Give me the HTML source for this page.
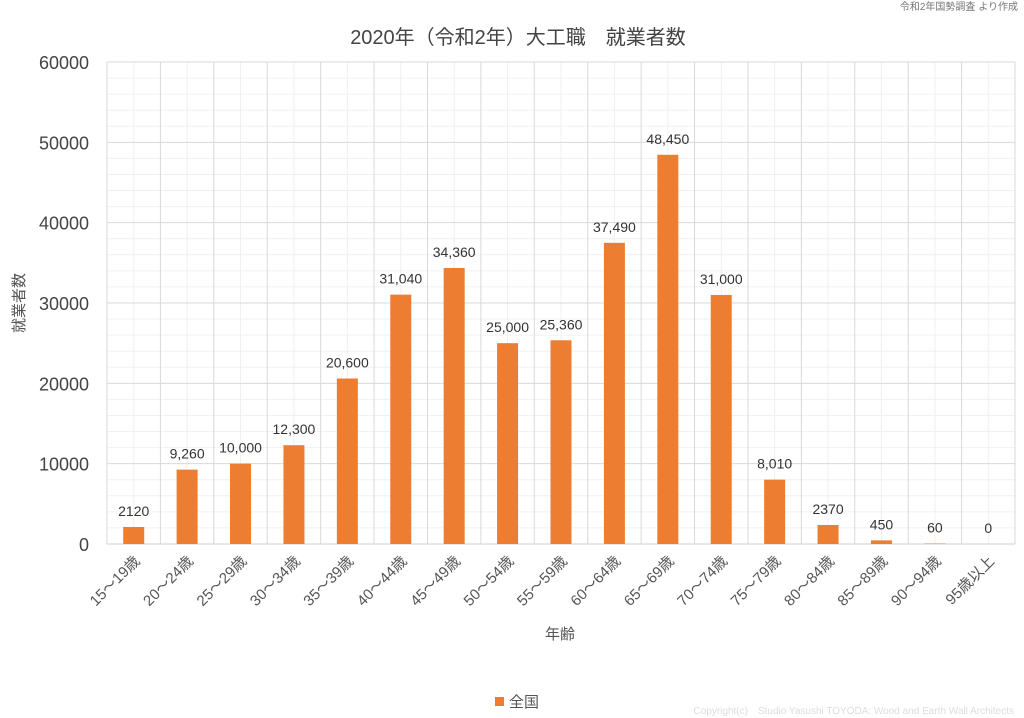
<!DOCTYPE html>
<html><head><meta charset="utf-8"><style>
body{margin:0;background:#fff;}
svg{display:block;font-family:"Liberation Sans","Noto Sans CJK JP",sans-serif;}
</style></head><body>
<svg width="1024" height="718" viewBox="0 0 1024 718" xmlns="http://www.w3.org/2000/svg">
<rect width="1024" height="718" fill="#fff"/>
<text x="1018" y="10" font-size="10" fill="#777" text-anchor="end">令和2年国勢調査 より作成</text>
<text x="518" y="44" font-size="20" fill="#444" text-anchor="middle">2020年（令和2年）大工職　就業者数</text>
<text transform="translate(24,303) rotate(-90)" font-size="15" fill="#555" text-anchor="middle">就業者数</text>
<text x="560" y="639" font-size="15" fill="#555" text-anchor="middle">年齢</text>
<rect x="495" y="697" width="9" height="9" fill="#ED7D31"/>
<text x="509" y="707" font-size="15" fill="#555">全国</text>
<text x="1014" y="714" font-size="10" fill="#ddd" text-anchor="end">Copyright(c)　Studio Yasushi TOYODA: Wood and Earth Wall Architects</text>
</svg>
<script>
const ns="http://www.w3.org/2000/svg";
const svg=document.querySelector('svg');
function el(t,a,txt){const e=document.createElementNS(ns,t);for(const k in a)e.setAttribute(k,a[k]);if(txt!=null)e.textContent=txt;svg.appendChild(e);return e;}
const L=107,R=1015,T=62,B=544,n=17,cw=(R-L)/n;
const y=v=>B-(B-T)*v/60000;
for(let v=2000;v<60000;v+=2000){if(v%10000)el('line',{x1:L,x2:R,y1:y(v),y2:y(v),stroke:'#f0f0f0'});}
for(let i=0;i<n;i++){const x=L+cw*(i+.5);el('line',{x1:x,x2:x,y1:T,y2:B,stroke:'#f0f0f0'});}
for(let v=10000;v<=60000;v+=10000)el('line',{x1:L,x2:R,y1:y(v),y2:y(v),stroke:'#d9d9d9'});
for(let i=0;i<=n;i++){const x=L+cw*i;el('line',{x1:x,x2:x,y1:T,y2:B,stroke:'#d9d9d9'});}
el('line',{x1:L,x2:R,y1:B,y2:B,stroke:'#cfcfcf'});
for(let v=0;v<=60000;v+=10000)el('text',{x:89,y:y(v)+7,'font-size':18,fill:'#444','text-anchor':'end'},String(v));
const cats=['15～19歳','20～24歳','25～29歳','30～34歳','35～39歳','40～44歳','45～49歳','50～54歳','55～59歳','60～64歳','65～69歳','70～74歳','75～79歳','80～84歳','85～89歳','90～94歳','95歳以上'];
const vals=[2120,9260,10000,12300,20600,31040,34360,25000,25360,37490,48450,31000,8010,2370,450,60,0];
const labs=['2120','9,260','10,000','12,300','20,600','31,040','34,360','25,000','25,360','37,490','48,450','31,000','8,010','2370','450','60','0'];
vals.forEach((v,i)=>{const c=L+cw*(i+.5);
 if(v>0)el('rect',{x:c-10.5,y:y(v),width:21,height:B-y(v),fill:'#ED7D31'});
 el('text',{x:c,y:y(v)-11,'font-size':14,fill:'#333','text-anchor':'middle'},labs[i]);
 el('text',{transform:`translate(${c+7},562) rotate(-45)`,'font-size':15,fill:'#555','text-anchor':'end'},cats[i]);
});
</script>
</body></html>
